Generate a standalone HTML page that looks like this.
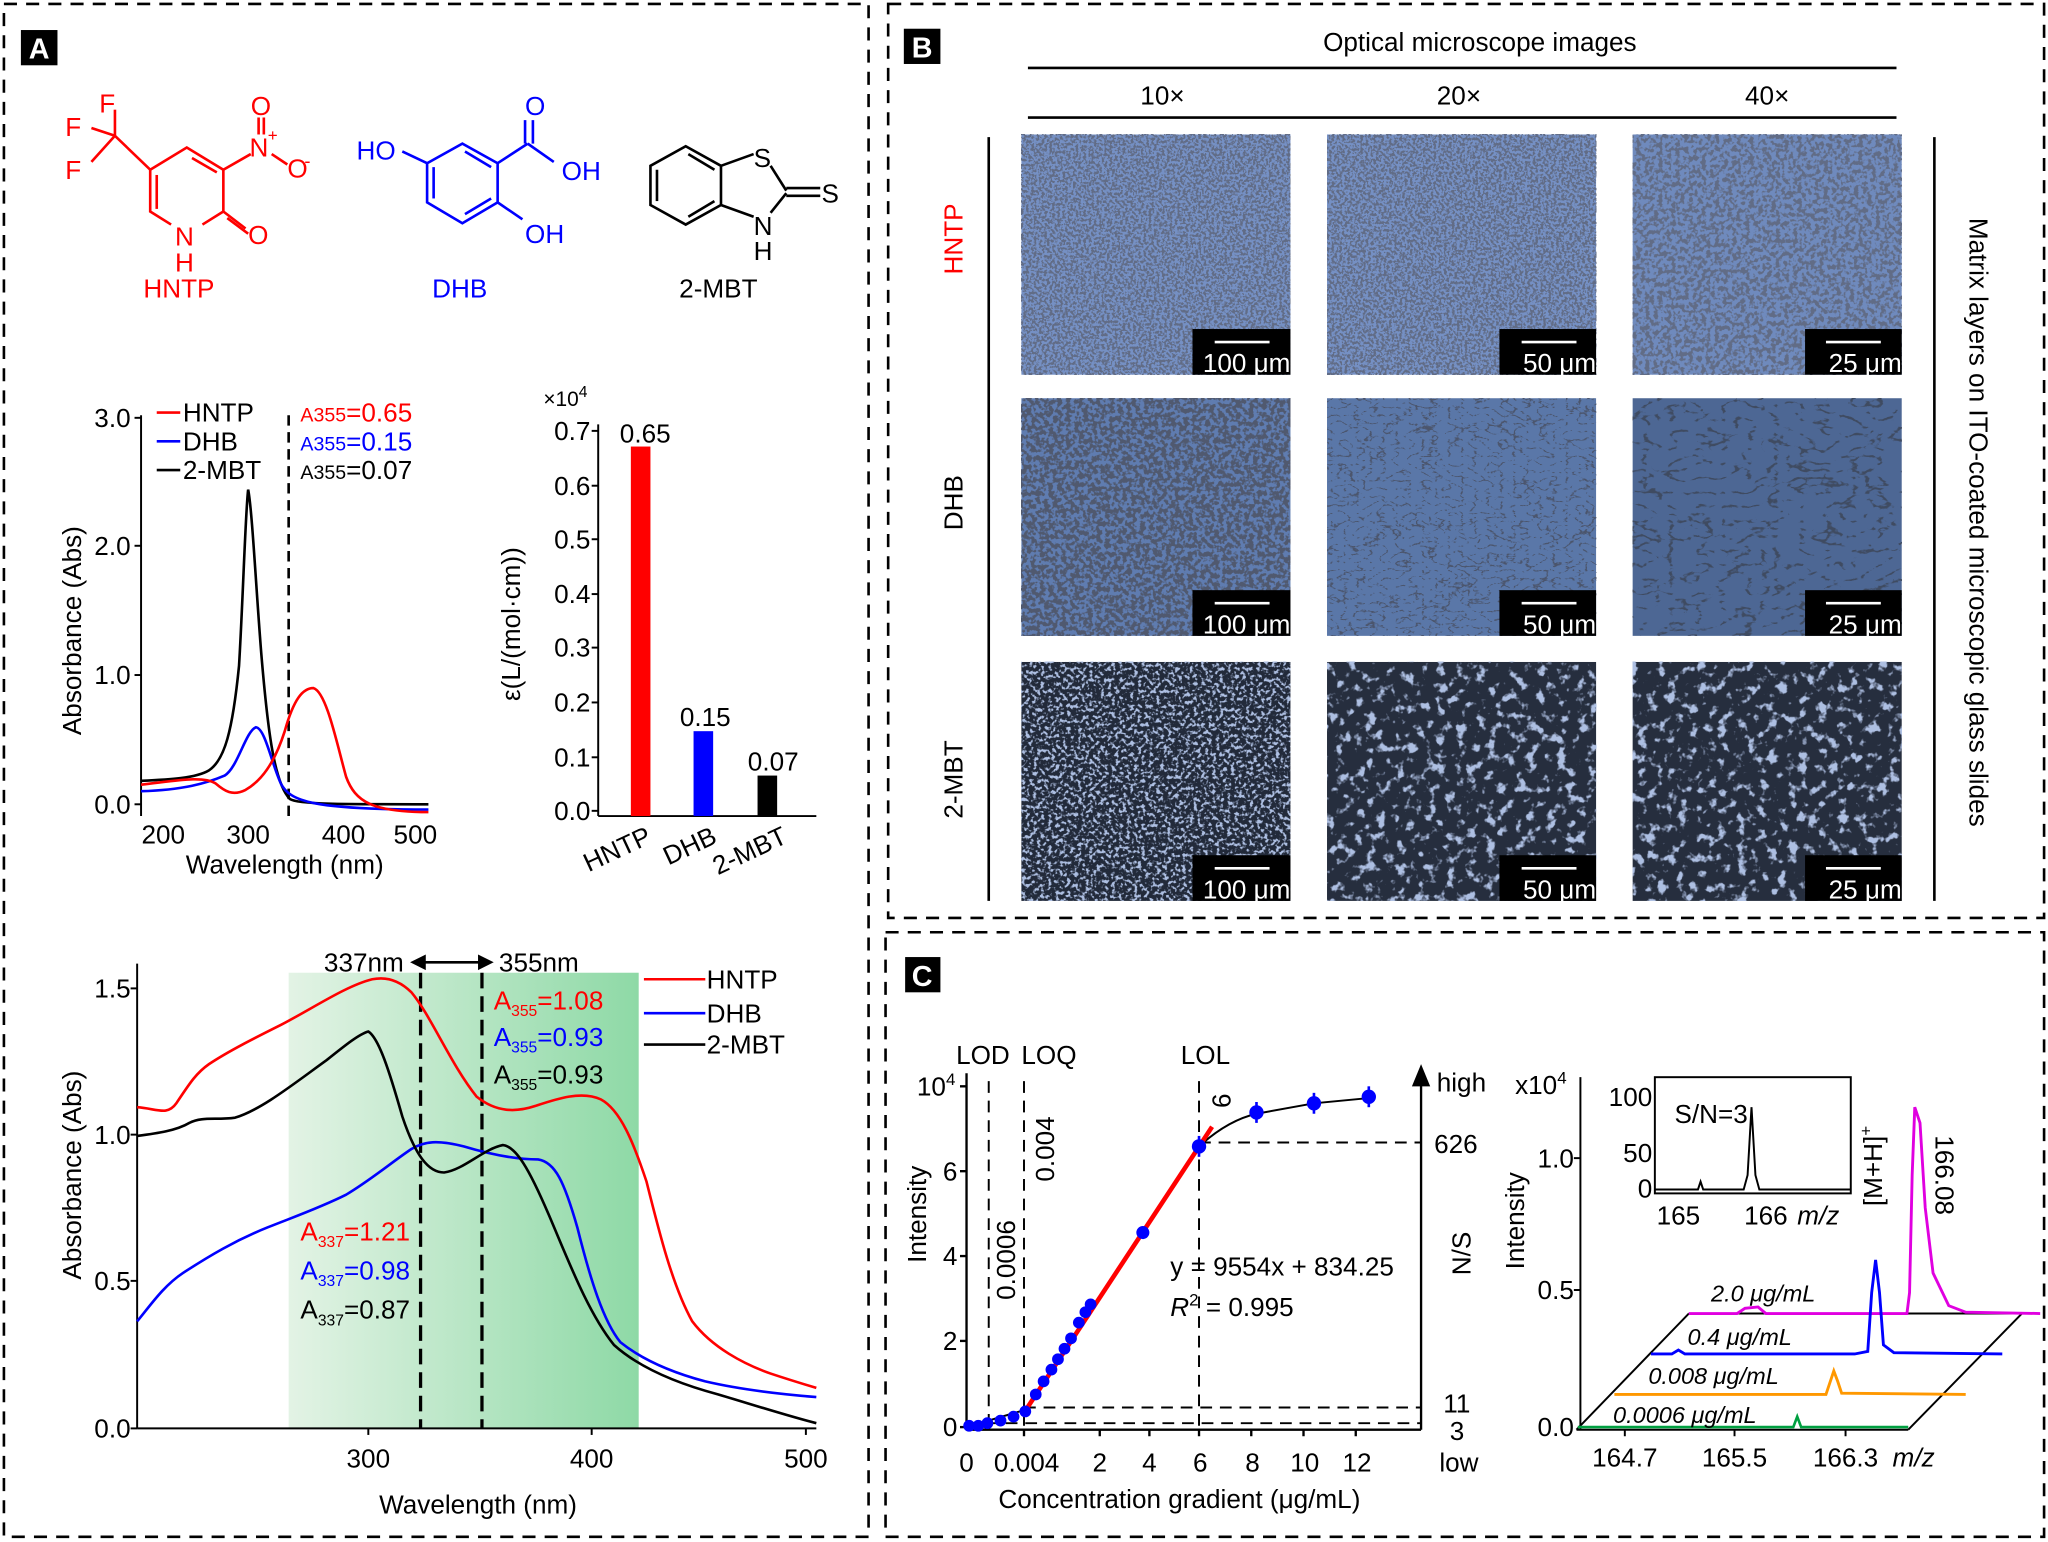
<!DOCTYPE html>
<html><head><meta charset="utf-8"><style>
html,body{margin:0;padding:0;background:#fff;}
svg{display:block;}
text{font-family:"Liberation Sans",sans-serif;}
</style></head><body>
<svg width="2048" height="1542" viewBox="0 0 1568 1181" preserveAspectRatio="none" xmlns="http://www.w3.org/2000/svg">
<defs>
<filter id="fH" x="0" y="0" width="1" height="1">
<feTurbulence type="fractalNoise" baseFrequency="0.5" numOctaves="2" seed="3"/>
<feColorMatrix type="matrix" values="0 0 0 0 0.12  0 0 0 0 0.15  0 0 0 0 0.24  9 0 0 0 -4.1"/>
</filter>
<filter id="fH2" x="0" y="0" width="1" height="1">
<feTurbulence type="fractalNoise" baseFrequency="0.3" numOctaves="2" seed="4"/>
<feColorMatrix type="matrix" values="0 0 0 0 0.12  0 0 0 0 0.15  0 0 0 0 0.24  9 0 0 0 -4.2"/>
</filter>
<filter id="fD0" x="0" y="0" width="1" height="1">
<feTurbulence type="fractalNoise" baseFrequency="0.3" numOctaves="2" seed="6"/>
<feColorMatrix type="matrix" values="0 0 0 0 0.08  0 0 0 0 0.1  0 0 0 0 0.16  9 0 0 0 -3.9"/>
</filter>
<filter id="fD" x="0" y="0" width="1" height="1">
<feTurbulence type="turbulence" baseFrequency="0.1 0.16" numOctaves="3" seed="7"/>
<feColorMatrix type="matrix" values="0 0 0 0 0.07  0 0 0 0 0.09  0 0 0 0 0.15  -12 0 0 0 2.0"/>
</filter>
<filter id="fD2" x="0" y="0" width="1" height="1">
<feTurbulence type="turbulence" baseFrequency="0.05 0.09" numOctaves="3" seed="11"/>
<feColorMatrix type="matrix" values="0 0 0 0 0.05  0 0 0 0 0.07  0 0 0 0 0.12  -14 0 0 0 2.3"/>
</filter>
<filter id="fM" x="0" y="0" width="1" height="1">
<feTurbulence type="fractalNoise" baseFrequency="0.35" numOctaves="2" seed="5"/>
<feColorMatrix type="matrix" values="0 0 0 0 0.42  0 0 0 0 0.52  0 0 0 0 0.76  6 0 0 0 -3.0"/>
</filter>
<filter id="fM2" x="0" y="0" width="1" height="1">
<feTurbulence type="fractalNoise" baseFrequency="0.13" numOctaves="3" seed="9"/>
<feColorMatrix type="matrix" values="0 0 0 0 0.42  0 0 0 0 0.52  0 0 0 0 0.76  7 0 0 0 -3.9"/>
</filter>
<linearGradient id="gr" x1="0" x2="1" y1="0" y2="0">
<stop offset="0" stop-color="#e3f3e5"/><stop offset="1" stop-color="#8ed9a6"/>
</linearGradient>
</defs>

<g fill="none" stroke="#000" stroke-width="2" stroke-dasharray="10,7">
<rect x="3" y="3" width="662" height="1174"/>
<rect x="680" y="3" width="885" height="700"/>
<rect x="678" y="714" width="887" height="463"/>
</g>
<rect x="16" y="23" width="28" height="27" fill="#000"/><text x="30" y="45" font-size="22" font-weight="bold" fill="#fff" text-anchor="middle">A</text>
<rect x="692" y="22" width="28" height="27" fill="#000"/><text x="706" y="44" font-size="22" font-weight="bold" fill="#fff" text-anchor="middle">B</text>
<rect x="693" y="733" width="27" height="27" fill="#000"/><text x="706" y="755" font-size="22" font-weight="bold" fill="#fff" text-anchor="middle">C</text>

<g stroke="#f00" stroke-width="2" fill="none">
<polyline points="115,130 143,113 171,130 171,162 155,172"/>
<line x1="147" y1="121" x2="166" y2="132"/>
<polyline points="131,172 115,162 115,130"/><line x1="120" y1="160" x2="120" y2="134"/>
<line x1="115" y1="130" x2="88" y2="104"/><line x1="88" y1="104" x2="88" y2="84"/><line x1="88" y1="104" x2="70" y2="98"/><line x1="88" y1="104" x2="70" y2="124"/>
<line x1="171" y1="130" x2="192" y2="118"/><line x1="198" y1="103" x2="198" y2="90"/><line x1="202" y1="103" x2="202" y2="90"/><line x1="208" y1="118" x2="220" y2="126"/>
<line x1="171" y1="162" x2="188" y2="175"/><line x1="174" y1="167" x2="190" y2="179"/>
</g>
<g fill="#f00" font-size="20">
<text x="76" y="86">F</text><text x="50" y="104">F</text><text x="50" y="137">F</text>
<text x="191" y="120">N</text><text x="205" y="108" font-size="13">+</text><text x="192" y="88">O</text><text x="220" y="136">O</text><text x="233" y="128" font-size="14">-</text>
<text x="190" y="187">O</text><text x="134" y="188">N</text><text x="134" y="208">H</text>
<text x="137" y="228" text-anchor="middle">HNTP</text>
</g>
<g stroke="#00f" stroke-width="2" fill="none">
<polygon points="327,125 354,110 381,125 381,155 354,171 327,155"/>
<line x1="332" y1="152" x2="332" y2="128"/><line x1="356" y1="116" x2="376" y2="128"/><line x1="376" y1="152" x2="356" y2="164"/>
<line x1="327" y1="125" x2="308" y2="116"/>
<line x1="381" y1="125" x2="404" y2="110"/><line x1="402" y1="110" x2="402" y2="92"/><line x1="408" y1="110" x2="408" y2="92"/><line x1="404" y1="110" x2="424" y2="124"/>
<line x1="381" y1="155" x2="400" y2="168"/>
</g>
<g fill="#00f" font-size="20">
<text x="273" y="122">HO</text><text x="402" y="88">O</text><text x="430" y="138">OH</text><text x="402" y="186">OH</text>
<text x="352" y="228" text-anchor="middle">DHB</text>
</g>
<g stroke="#000" stroke-width="2" fill="none">
<polygon points="498,127 525,112 552,127 552,157 525,172 498,157"/>
<line x1="503" y1="154" x2="503" y2="130"/><line x1="527" y1="118" x2="547" y2="130"/><line x1="547" y1="154" x2="527" y2="166"/>
<line x1="552" y1="127" x2="577" y2="118"/><line x1="590" y1="127" x2="602" y2="146"/><line x1="552" y1="157" x2="577" y2="166"/><line x1="602" y1="148" x2="590" y2="163"/>
<line x1="602" y1="144" x2="628" y2="144"/><line x1="602" y1="150" x2="628" y2="150"/>
</g>
<g fill="#000" font-size="20">
<text x="577" y="128">S</text><text x="629" y="155">S</text><text x="577" y="180">N</text><text x="577" y="199">H</text>
<text x="550" y="228" text-anchor="middle">2-MBT</text>
</g>

<g stroke="#000" stroke-width="1.5" fill="none">
<line x1="108" y1="318" x2="108" y2="625"/>
<line x1="103" y1="320" x2="108" y2="320"/><line x1="103" y1="418" x2="108" y2="418"/><line x1="103" y1="517" x2="108" y2="517"/><line x1="103" y1="616" x2="108" y2="616"/>
</g>
<g font-size="20" text-anchor="end"><text x="100" y="327">3.0</text><text x="100" y="425">2.0</text><text x="100" y="524">1.0</text><text x="100" y="623">0.0</text></g>
<g font-size="20" text-anchor="middle"><text x="125" y="646">200</text><text x="190" y="646">300</text><text x="263" y="646">400</text><text x="318" y="646">500</text>
<text x="218" y="669">Wavelength (nm)</text></g>
<text transform="translate(62,483) rotate(-90)" font-size="20" text-anchor="middle">Absorbance (Abs)</text>
<line x1="221" y1="318" x2="221" y2="625" stroke="#000" stroke-width="2" stroke-dasharray="8,5"/>
<path d="M108,598 C130,597 150,596 160,590 C172,582 178,560 183,510 C186,460 188,390 190,375 C193,390 196,450 200,500 C205,560 210,600 222,612 C228,616 260,616 328,616" stroke="#000" stroke-width="2" fill="none"/>
<path d="M108,606 C140,605 158,600 172,594 C182,588 188,560 196,557 C203,558 208,585 215,600 C222,614 240,620 328,620" stroke="#00f" stroke-width="2" fill="none"/>
<path d="M108,601 C135,598 155,594 165,600 C172,606 178,610 188,605 C200,598 210,585 218,560 C225,535 232,527 240,527 C250,530 258,570 265,595 C272,614 285,622 328,622" stroke="#f00" stroke-width="2" fill="none"/>
<g font-size="20">
<line x1="120" y1="316" x2="138" y2="316" stroke="#f00" stroke-width="2"/><text x="140" y="323">HNTP</text>
<line x1="120" y1="338" x2="138" y2="338" stroke="#00f" stroke-width="2"/><text x="140" y="345">DHB</text>
<line x1="120" y1="360" x2="138" y2="360" stroke="#000" stroke-width="2"/><text x="140" y="367">2-MBT</text>
<text x="230" y="323" fill="#f00"><tspan font-size="15">A355</tspan>=0.65</text>
<text x="230" y="345" fill="#00f"><tspan font-size="15">A355</tspan>=0.15</text>
<text x="230" y="367"><tspan font-size="15">A355</tspan>=0.07</text>
</g>

<g stroke="#000" stroke-width="1.5">
<line x1="458" y1="325" x2="458" y2="625"/><line x1="458" y1="625" x2="625" y2="625"/>
<line x1="453" y1="330" x2="458" y2="330"/><line x1="453" y1="372" x2="458" y2="372"/><line x1="453" y1="413" x2="458" y2="413"/><line x1="453" y1="455" x2="458" y2="455"/><line x1="453" y1="496" x2="458" y2="496"/><line x1="453" y1="538" x2="458" y2="538"/><line x1="453" y1="580" x2="458" y2="580"/><line x1="453" y1="621" x2="458" y2="621"/>
</g>
<g font-size="20" text-anchor="end"><text x="452" y="337">0.7</text><text x="452" y="379">0.6</text><text x="452" y="420">0.5</text><text x="452" y="462">0.4</text><text x="452" y="503">0.3</text><text x="452" y="545">0.2</text><text x="452" y="587">0.1</text><text x="452" y="628">0.0</text></g>
<text x="416" y="311" font-size="16">×10<tspan font-size="12" dy="-7">4</tspan></text>
<rect x="483" y="342" width="15" height="283" fill="#f00"/>
<rect x="531" y="560" width="15" height="65" fill="#00f"/>
<rect x="580" y="594" width="15" height="31" fill="#000"/>
<g font-size="20" text-anchor="middle"><text x="494" y="339">0.65</text><text x="540" y="556">0.15</text><text x="592" y="590">0.07</text></g>
<g font-size="20" text-anchor="end">
<text transform="translate(500,645) rotate(-25)">HNTP</text>
<text transform="translate(550,645) rotate(-25)">DHB</text>
<text transform="translate(604,645) rotate(-25)">2-MBT</text>
</g>
<text transform="translate(398,478) rotate(-90)" font-size="20" text-anchor="middle">ε(L/(mol·cm))</text>

<rect x="221" y="745" width="268" height="349" fill="url(#gr)"/>
<g stroke="#000" stroke-width="1.5">
<line x1="105" y1="738" x2="105" y2="1094"/><line x1="105" y1="1094" x2="625" y2="1094"/>
<line x1="100" y1="757" x2="105" y2="757"/><line x1="100" y1="869" x2="105" y2="869"/><line x1="100" y1="981" x2="105" y2="981"/><line x1="100" y1="1094" x2="105" y2="1094"/>
<line x1="282" y1="1094" x2="282" y2="1099"/><line x1="453" y1="1094" x2="453" y2="1099"/><line x1="617" y1="1094" x2="617" y2="1099"/>
</g>
<g font-size="20" text-anchor="end"><text x="100" y="764">1.5</text><text x="100" y="876">1.0</text><text x="100" y="988">0.5</text><text x="100" y="1101">0.0</text></g>
<g font-size="20" text-anchor="middle"><text x="282" y="1124">300</text><text x="453" y="1124">400</text><text x="617" y="1124">500</text><text x="366" y="1159">Wavelength (nm)</text></g>
<text transform="translate(62,900) rotate(-90)" font-size="20" text-anchor="middle">Absorbance (Abs)</text>
<g stroke="#000" stroke-width="2.5" stroke-dasharray="12,6"><line x1="322" y1="745" x2="322" y2="1094"/><line x1="369" y1="745" x2="369" y2="1094"/></g>
<line x1="322" y1="737" x2="368" y2="737" stroke="#000" stroke-width="2"/>
<polygon points="314,737 326,731 326,743" fill="#000"/><polygon points="378,737 366,731 366,743" fill="#000"/>
<text x="248" y="744" font-size="20">337nm</text><text x="382" y="744" font-size="20">355nm</text>
<path d="M105,848 C120,849 128,855 135,845 C145,830 150,822 160,815 C175,805 195,795 215,785 C240,772 265,755 285,750 C295,748 305,750 315,760 C330,778 345,815 365,840 C380,852 395,852 410,847 C425,842 445,835 460,842 C475,850 485,875 495,905 C505,945 515,985 530,1012 C545,1032 570,1045 590,1052 C605,1057 615,1060 625,1063" stroke="#f00" stroke-width="2" fill="none"/>
<path d="M105,1012 C115,1000 125,985 140,975 C160,962 180,950 205,940 C225,932 245,925 265,915 C285,903 300,890 315,880 C325,874 335,873 355,878 C375,884 395,888 412,888 C425,890 432,905 442,940 C452,980 462,1012 475,1028 C490,1040 510,1050 540,1058 C570,1065 600,1068 625,1070" stroke="#00f" stroke-width="2" fill="none"/>
<path d="M105,870 C120,868 135,866 145,860 C155,855 165,858 180,856 C200,850 225,830 250,812 C265,800 275,792 282,790 C290,795 298,820 308,855 C318,885 328,898 340,898 C355,896 370,880 385,877 C395,878 405,895 420,930 C435,965 450,1005 470,1030 C490,1048 520,1060 550,1068 C580,1077 605,1085 625,1090" stroke="#000" stroke-width="2" fill="none"/>
<g font-size="20">
<line x1="493" y1="750" x2="540" y2="750" stroke="#f00" stroke-width="2"/><text x="541" y="757">HNTP</text>
<line x1="493" y1="776" x2="540" y2="776" stroke="#00f" stroke-width="2"/><text x="541" y="783">DHB</text>
<line x1="493" y1="800" x2="540" y2="800" stroke="#000" stroke-width="2"/><text x="541" y="807">2-MBT</text>
<text x="378" y="773" fill="#f00">A<tspan font-size="12" dy="5">355</tspan><tspan dy="-5">=1.08</tspan></text>
<text x="378" y="801" fill="#00f">A<tspan font-size="12" dy="5">355</tspan><tspan dy="-5">=0.93</tspan></text>
<text x="378" y="830">A<tspan font-size="12" dy="5">355</tspan><tspan dy="-5">=0.93</tspan></text>
<text x="230" y="950" fill="#f00">A<tspan font-size="12" dy="5">337</tspan><tspan dy="-5">=1.21</tspan></text>
<text x="230" y="980" fill="#00f">A<tspan font-size="12" dy="5">337</tspan><tspan dy="-5">=0.98</tspan></text>
<text x="230" y="1010">A<tspan font-size="12" dy="5">337</tspan><tspan dy="-5">=0.87</tspan></text>
</g>

<text x="1133" y="39" font-size="20" text-anchor="middle">Optical microscope images</text>
<line x1="787" y1="52" x2="1452" y2="52" stroke="#000" stroke-width="2"/>
<g font-size="20" text-anchor="middle"><text x="890" y="80">10×</text><text x="1117" y="80">20×</text><text x="1353" y="80">40×</text></g>
<line x1="787" y1="90" x2="1452" y2="90" stroke="#000" stroke-width="2"/>
<line x1="757" y1="105" x2="757" y2="690" stroke="#000" stroke-width="2"/>
<line x1="1481" y1="105" x2="1481" y2="690" stroke="#000" stroke-width="2"/>
<text transform="translate(737,183) rotate(-90)" font-size="20" fill="#f00" text-anchor="middle">HNTP</text>
<text transform="translate(737,385) rotate(-90)" font-size="20" text-anchor="middle">DHB</text>
<text transform="translate(737,597) rotate(-90)" font-size="20" text-anchor="middle">2-MBT</text>
<text transform="translate(1508,400) rotate(90)" font-size="20" text-anchor="middle">Matrix layers on ITO-coated microscopic glass slides</text>

<g>
<rect x="782" y="103" width="206" height="184" fill="#7590c4"/><rect x="782" y="103" width="206" height="184" filter="url(#fH)"/>
<rect x="1016" y="103" width="206" height="184" fill="#7590c4"/><rect x="1016" y="103" width="206" height="184" filter="url(#fH)"/>
<rect x="1250" y="103" width="206" height="184" fill="#6f8abd"/><rect x="1250" y="103" width="206" height="184" filter="url(#fH2)"/>
<rect x="782" y="305" width="206" height="182" fill="#5f7cb0"/><rect x="782" y="305" width="206" height="182" filter="url(#fD0)"/>
<rect x="1016" y="305" width="206" height="182" fill="#5a77a8"/><rect x="1016" y="305" width="206" height="182" filter="url(#fD)"/>
<rect x="1250" y="305" width="206" height="182" fill="#4d6794"/><rect x="1250" y="305" width="206" height="182" filter="url(#fD2)"/>
<rect x="782" y="507" width="206" height="183" fill="#222a3a"/><rect x="782" y="507" width="206" height="183" filter="url(#fM)"/>
<rect x="1016" y="507" width="206" height="183" fill="#262e3e"/><rect x="1016" y="507" width="206" height="183" filter="url(#fM2)"/>
<rect x="1250" y="507" width="206" height="183" fill="#262e3e"/><rect x="1250" y="507" width="206" height="183" filter="url(#fM2)"/>
</g>
<g fill="#000">
<rect x="913" y="252" width="75" height="35"/><rect x="1148" y="252" width="74" height="35"/><rect x="1382" y="252" width="74" height="35"/>
<rect x="913" y="452" width="75" height="35"/><rect x="1148" y="452" width="74" height="35"/><rect x="1382" y="452" width="74" height="35"/>
<rect x="913" y="655" width="75" height="35"/><rect x="1148" y="655" width="74" height="35"/><rect x="1382" y="655" width="74" height="35"/>
</g>
<g stroke="#fff" stroke-width="2">
<line x1="930" y1="262" x2="972" y2="262"/><line x1="1165" y1="262" x2="1207" y2="262"/><line x1="1398" y1="262" x2="1440" y2="262"/>
<line x1="930" y1="462" x2="972" y2="462"/><line x1="1165" y1="462" x2="1207" y2="462"/><line x1="1398" y1="462" x2="1440" y2="462"/>
<line x1="930" y1="665" x2="972" y2="665"/><line x1="1165" y1="665" x2="1207" y2="665"/><line x1="1398" y1="665" x2="1440" y2="665"/>
</g>
<g fill="#fff" font-size="20" text-anchor="end">
<text x="988" y="285">100 μm</text><text x="1222" y="285">50 μm</text><text x="1456" y="285">25 μm</text>
<text x="988" y="485">100 μm</text><text x="1222" y="485">50 μm</text><text x="1456" y="485">25 μm</text>
<text x="988" y="688">100 μm</text><text x="1222" y="688">50 μm</text><text x="1456" y="688">25 μm</text>
</g>

<g stroke="#000" stroke-width="1.8" fill="none">
<line x1="740" y1="822" x2="740" y2="1095"/><line x1="740" y1="1095" x2="1088" y2="1095"/><line x1="1088" y1="830" x2="1088" y2="1095"/>
<line x1="735" y1="832" x2="740" y2="832"/><line x1="735" y1="897" x2="740" y2="897"/><line x1="735" y1="962" x2="740" y2="962"/><line x1="735" y1="1027" x2="740" y2="1027"/><line x1="735" y1="1093" x2="740" y2="1093"/>
<line x1="784" y1="1095" x2="784" y2="1100"/><line x1="842" y1="1095" x2="842" y2="1100"/><line x1="880" y1="1095" x2="880" y2="1100"/><line x1="918" y1="1095" x2="918" y2="1100"/><line x1="958" y1="1095" x2="958" y2="1100"/><line x1="998" y1="1095" x2="998" y2="1100"/><line x1="1038" y1="1095" x2="1038" y2="1100"/>
</g>
<polygon points="1088,815 1081,832 1095,832" fill="#000"/>
<g stroke="#000" stroke-width="1.5" stroke-dasharray="9,6" fill="none">
<line x1="757" y1="828" x2="757" y2="1095"/><line x1="784" y1="828" x2="784" y2="1095"/><line x1="918" y1="828" x2="918" y2="1095"/>
<line x1="918" y1="875" x2="1088" y2="875"/><line x1="784" y1="1078" x2="1088" y2="1078"/><line x1="740" y1="1090" x2="1088" y2="1090"/>
</g>
<g font-size="20">
<text x="732" y="815">LOD</text><text x="782" y="815">LOQ</text><text x="904" y="815">LOL</text>
<text x="702" y="839">10<tspan font-size="13" dy="-8">4</tspan></text>
<text x="733" y="904" text-anchor="end">6</text><text x="733" y="969" text-anchor="end">4</text><text x="733" y="1034" text-anchor="end">2</text><text x="733" y="1100" text-anchor="end">0</text>
<g text-anchor="middle"><text x="740" y="1127">0</text><text x="786" y="1127">0.004</text><text x="842" y="1127">2</text><text x="880" y="1127">4</text><text x="919" y="1127">6</text><text x="959" y="1127">8</text><text x="999" y="1127">10</text><text x="1039" y="1127">12</text>
<text x="903" y="1155">Concentration gradient (μg/mL)</text></g>
<text x="1100" y="836">high</text><text x="1098" y="883">626</text><text x="1105" y="1082">11</text><text x="1110" y="1103">3</text><text x="1102" y="1127">low</text>
<text x="896" y="977">y = 9554x + 834.25</text><text x="896" y="1008"><tspan font-style="italic">R</tspan><tspan font-size="13" dy="-8">2</tspan><tspan dy="8"> = 0.995</tspan></text>
<text transform="translate(709,930) rotate(-90)" text-anchor="middle">Intensity</text>
<text transform="translate(1126,960) rotate(-90)" text-anchor="middle">N/S</text>
<text transform="translate(777,965) rotate(-90)" text-anchor="middle">0.0006</text>
<text transform="translate(807,880) rotate(-90)" text-anchor="middle">0.004</text>
<text transform="translate(942,843) rotate(-90)" text-anchor="middle">6</text>
</g>
<path d="M740,1093 L784,1080" stroke="#000" stroke-width="1.5" fill="none"/>
<path d="M918,878 Q940,858 962,853 L1006,845 L1048,841" stroke="#000" stroke-width="1.5" fill="none"/>
<line x1="784" y1="1082" x2="928" y2="863" stroke="#f00" stroke-width="3.5"/>
<g fill="#00f">
<circle cx="742" cy="1092" r="4.5"/><circle cx="749" cy="1092" r="4.5"/><circle cx="756" cy="1090" r="4.5"/><circle cx="766" cy="1088" r="4.5"/><circle cx="776" cy="1085" r="4.5"/><circle cx="785" cy="1081" r="4.5"/><circle cx="793" cy="1068" r="4.5"/><circle cx="799" cy="1058" r="4.5"/><circle cx="805" cy="1049" r="4.5"/><circle cx="810" cy="1041" r="4.5"/><circle cx="815" cy="1033" r="4.5"/><circle cx="820" cy="1025" r="4.5"/><circle cx="826" cy="1013" r="4.5"/><circle cx="831" cy="1005" r="4.5"/><circle cx="835" cy="999" r="4.5"/><circle cx="875" cy="944" r="5"/><circle cx="918" cy="878" r="5.5"/><circle cx="962" cy="852" r="5.5"/><circle cx="1006" cy="845" r="5.5"/><circle cx="1048" cy="840" r="5.5"/>
</g>
<g stroke="#00f" stroke-width="2">
<line x1="918" y1="870" x2="918" y2="886"/><line x1="962" y1="844" x2="962" y2="860"/><line x1="1006" y1="837" x2="1006" y2="853"/><line x1="1048" y1="832" x2="1048" y2="848"/>
</g>

<g stroke="#000" stroke-width="1.5" fill="none">
<line x1="1210" y1="825" x2="1210" y2="1095"/>
<line x1="1205" y1="887" x2="1210" y2="887"/><line x1="1205" y1="988" x2="1210" y2="988"/>
<line x1="1207" y1="1095" x2="1461" y2="1095"/>
<line x1="1207" y1="1095" x2="1293" y2="1006"/><line x1="1461" y1="1095" x2="1548" y2="1006"/>
<line x1="1293" y1="1006" x2="1548" y2="1006"/>
<line x1="1244" y1="1095" x2="1244" y2="1100"/><line x1="1328" y1="1095" x2="1328" y2="1100"/><line x1="1413" y1="1095" x2="1413" y2="1100"/>
<rect x="1267" y="825" width="150" height="89"/>
</g>
<path d="M1293,1006 L1330,1006 L1336,1002 L1346,1001 L1352,1006 L1460,1006 L1462,990 L1464,900 L1466,848 L1470,860 L1474,925 L1480,975 L1492,1000 L1505,1005 L1562,1006" stroke="#e000e0" stroke-width="2.2" fill="none"/>
<path d="M1264,1037 L1280,1037 L1285,1034 L1290,1037 L1420,1037 L1430,1035 L1433,990 L1436,965 L1439,990 L1442,1030 L1450,1036 L1533,1037" stroke="#00f" stroke-width="2.2" fill="none"/>
<path d="M1236,1068 L1398,1068 L1402,1056 L1404,1050 L1407,1058 L1410,1067 L1505,1068" stroke="#ff9800" stroke-width="2.2" fill="none"/>
<path d="M1208,1093 L1373,1093 L1376,1085 L1379,1093 L1461,1093" stroke="#00a040" stroke-width="2" fill="none"/>
<path d="M1267,911 L1300,911 L1302,905 L1304,911 L1335,911 L1338,900 L1341,848 L1344,900 L1347,911 L1417,911" stroke="#000" stroke-width="1.5" fill="none"/>
<g font-size="20">
<text x="1160" y="838">x10<tspan font-size="13" dy="-8">4</tspan></text>
<text x="1205" y="894" text-anchor="end">1.0</text><text x="1205" y="995" text-anchor="end">0.5</text><text x="1205" y="1100" text-anchor="end">0.0</text>
<text transform="translate(1167,935) rotate(-90)" text-anchor="middle">Intensity</text>
<text x="1244" y="1123" text-anchor="middle">164.7</text><text x="1328" y="1123" text-anchor="middle">165.5</text><text x="1413" y="1123" text-anchor="middle">166.3</text><text x="1449" y="1123" font-style="italic">m/z</text>
<text x="1282" y="860">S/N=3</text>
<text x="1265" y="847" text-anchor="end">100</text><text x="1265" y="890" text-anchor="end">50</text><text x="1265" y="917" text-anchor="end">0</text>
<text x="1285" y="938" text-anchor="middle">165</text><text x="1352" y="938" text-anchor="middle">166</text><text x="1376" y="938" font-style="italic">m/z</text>
<text transform="translate(1441,893) rotate(-90)" text-anchor="middle">[M+H]<tspan font-size="13" dy="-8">+</tspan></text>
<text transform="translate(1482,900) rotate(90)" text-anchor="middle">166.08</text>
<g font-style="italic" font-size="18">
<text x="1310" y="997">2.0 μg/mL</text><text x="1292" y="1030">0.4 μg/mL</text><text x="1262" y="1060">0.008 μg/mL</text><text x="1235" y="1090">0.0006 μg/mL</text>
</g>
</g>
</svg>
</body></html>
